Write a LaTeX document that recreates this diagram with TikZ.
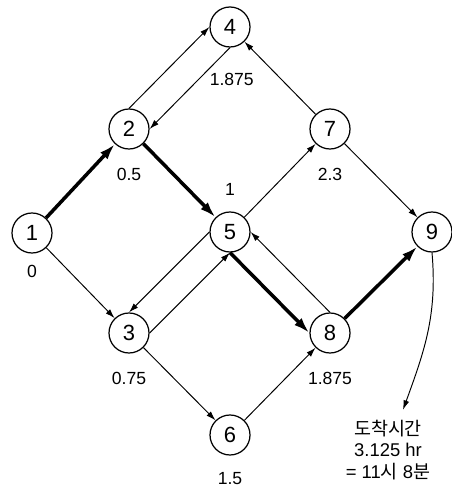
\documentclass[tikz,border=0pt]{standalone}
\usepackage{fontspec}
\setmainfont{Liberation Sans}
\newfontfamily\kr{Noto Sans CJK KR}
\usepackage{tikz}
\usetikzlibrary{arrows.meta}

\begin{document}
\begin{tikzpicture}[
	event/.style={circle, draw, line width=0.7pt, minimum size=0.8cm, inner sep=0pt, font=\fontsize{12.5}{14}\selectfont},
	lbl/.style={inner sep=0pt, font=\fontsize{10}{12}\selectfont},
	every label/.style={lbl},
	label distance=0.36cm,
	act/.style={-{Latex[length=1.9mm,width=1.2mm]}, line width=0.55pt},
	crit/.style={-{Latex[length=3.2mm,width=2mm]}, line width=2pt},
	note/.style={align=center, inner sep=1.5mm, font=\fontsize{10.5}{12.2}\selectfont},]

    \useasboundingbox (0,0) rectangle (9.02,-9.74);

    \node[event, label={[label distance=0.22cm]below:0}] (n1) at (0.64,-4.66) {1};
    \node[event, label=below:0.5] (n2) at (2.58,-2.58) {2};
    \node[event, label=below:0.75] (n3) at (2.58,-6.66) {3};
    \node[event, label={[label distance=0.5cm, xshift=1pt]below:1.875}] (n4) at (4.6,-0.54) {4};
    \node[event, label={[label distance=0.32cm]above:1}] (n5) at (4.6,-4.64) {5};
    \node[event, label={[label distance=0.32cm]below:1.5}] (n6) at (4.6,-8.7) {6};
    \node[event, label=below:2.3] (n7) at (6.6,-2.58) {7};
    \node[event, label=below:1.875] (n8) at (6.6,-6.66) {8};
    \node[event] (n9) at (8.64,-4.64) {9};

    \node[note] (note) at (7.76,-9.0) {{\kr 도착시간}\\3.125 hr\\= 11{\kr 시} 8{\kr 분}};

	% ordinary activities
    \draw[act] (n1) -- (n3);
    \draw[act] (n2.north) -- (n4.west);
    \draw[act] (n4.south) -- (n2.east);
    \draw[act] (n3.east) -- (n5.south);
    \draw[act] (n5.west) -- (n3.north);
    \draw[act] (n3) -- (n6);
    \draw[act] (n5) -- (n7);
    \draw[act] (n7) -- (n4);
    \draw[act] (n7) -- (n9);
    \draw[act] (n8.north) -- (n5.east);
    \draw[act] (n6) -- (n8);

	% critical path
    \draw[crit] (n1) -- (n2);
    \draw[crit] (n2) -- (n5);
    \draw[crit] (n5.south) -- (n8.west);
    \draw[crit] (n8) -- (n9);

    \draw[act] (n9.south) to[out=-85, in=70] ([xshift=3mm, yshift=0.5mm]note.north);
\end{tikzpicture}
\end{document}
